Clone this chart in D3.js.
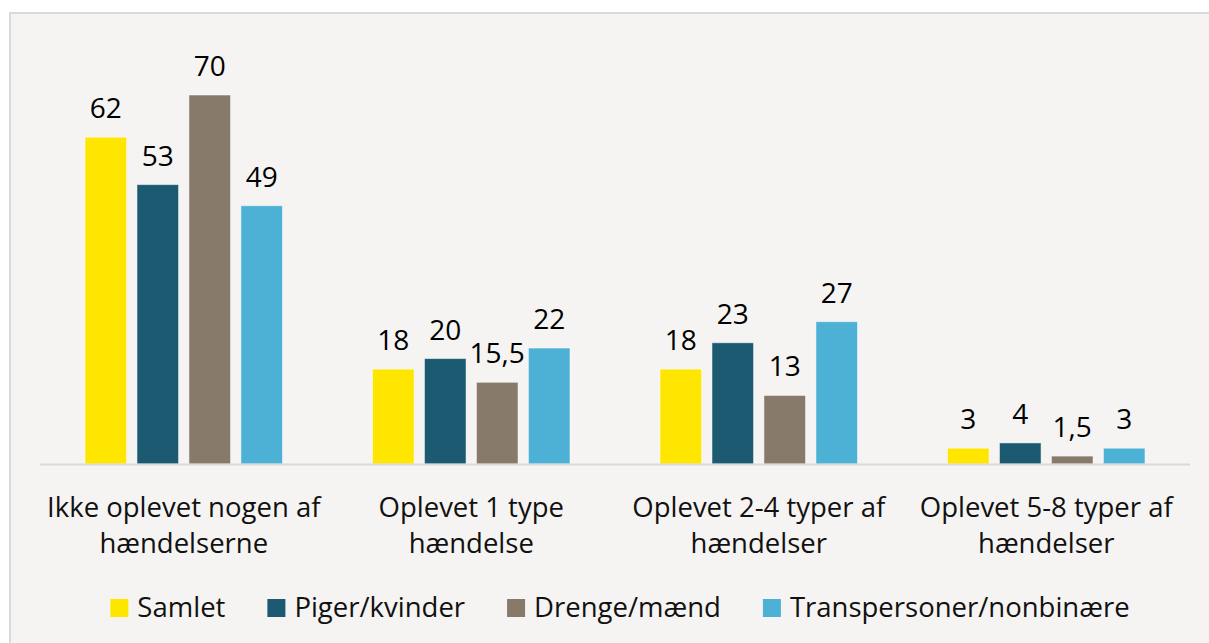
<!DOCTYPE html>
<html>
<head>
<meta charset="utf-8">
<script src="https://cdnjs.cloudflare.com/ajax/libs/d3/7.8.5/d3.min.js"></script>
<style>
  html, body { margin: 0; padding: 0; background: #ffffff; }
  svg { display: block; font-family: "Open Sans", "Noto Sans", sans-serif; }
</style>
</head>
<body>
<div id="chart"></div>
<script>
// chart data
let categories = [
  'Ikke oplevet nogen af\nhændelserne',
  'Oplevet 1 type\nhændelse',
  'Oplevet 2-4 typer af\nhændelser',
  'Oplevet 5-8 typer af\nhændelser'
];
let seriesNames = ['Samlet', 'Piger/kvinder', 'Drenge/mænd', 'Transpersoner/nonbinære'];
let samlet = [62, 18, 18, 3];
let pigerKvinder = [53, 20, 23, 4];
let drengeMaend = [70, 15.5, 13, 1.5];
let transpersoner = [49, 22, 27, 3];
let colors = ['#ffe600', '#1c5a72', '#877a6b', '#4db1d6'];

let seriesValues = [samlet, pigerKvinder, drengeMaend, transpersoner];

// --------------------------------------------------

let width = 1209, height = 643;
let baseY = 464, topY = 95;
let fontSize = 27.5;

let svg = d3.select('#chart')
  .append('svg')
  .attr('width', width)
  .attr('height', height);

// panel with thin border on top and left
svg.append('rect')
  .attr('x', 10).attr('y', 13)
  .attr('width', width + 20).attr('height', height + 20)
  .attr('fill', '#f5f4f2')
  .attr('stroke', '#d9d9d9')
  .attr('stroke-width', 2);

let x0 = d3.scaleBand()
  .domain(categories)
  .range([40, 1190]);

let x1 = d3.scaleBand()
  .domain(seriesNames)
  .range([45, x0.bandwidth() - 45])
  .paddingInner(0.2);

let y = d3.scaleLinear()
  .domain([0, 70])
  .range([baseY, topY]);

let fmt = d3.formatLocale({ decimal: ',', thousands: '.', grouping: [3], currency: ['', ' kr'] }).format(',~f');

let rows = [];
categories.forEach(function (cat, i)
{
  seriesNames.forEach(function (name, j)
  {
    rows.push({ cat: cat, name: name, value: seriesValues[j][i], color: colors[j] });
  });
});

let groups = svg.append('g');

groups.selectAll('rect.bar')
  .data(rows)
  .enter()
  .append('rect')
  .classed('bar', true)
  .attr('x', d => x0(d.cat) + x1(d.name))
  .attr('y', d => y(d.value))
  .attr('width', x1.bandwidth())
  .attr('height', d => baseY - y(d.value))
  .attr('fill', d => d.color)
  .attr('stroke', '#ffffff')
  .attr('stroke-opacity', 0.5)
  .attr('stroke-width', 1);

groups.selectAll('text.val')
  .data(rows)
  .enter()
  .append('text')
  .classed('val', true)
  .attr('x', d => x0(d.cat) + x1(d.name) + x1.bandwidth() / 2)
  .attr('y', d => y(d.value) - 19)
  .attr('text-anchor', 'middle')
  .attr('font-size', 28)
  .attr('fill', '#000')
  .text(d => fmt(d.value));

// baseline
svg.append('line')
  .attr('x1', 40).attr('x2', 1190)
  .attr('y1', baseY + 0.5).attr('y2', baseY + 0.5)
  .attr('stroke', '#d9d9d9')
  .attr('stroke-width', 2);

// category labels
let catLabels = svg.selectAll('text.cat')
  .data(categories)
  .enter()
  .append('text')
  .classed('cat', true)
  .attr('text-anchor', 'middle')
  .attr('font-size', fontSize)
  .attr('fill', '#111');

catLabels.selectAll('tspan')
  .data(d => d.split('\n').map(line => ({ line: line, cat: d })))
  .enter()
  .append('tspan')
  .attr('x', d => x0(d.cat) + x0.bandwidth() / 2)
  .attr('y', (d, i) => 517 + i * 36)
  .text(d => d.line);

// legend
let legend = svg.append('g');
let item = legend.selectAll('g')
  .data(seriesNames)
  .enter()
  .append('g');

item.append('rect')
  .attr('width', 18).attr('height', 18)
  .attr('y', 599)
  .attr('fill', (d, i) => colors[i]);

item.append('text')
  .attr('x', 27)
  .attr('y', 617)
  .attr('font-size', fontSize)
  .attr('fill', '#111')
  .text(d => d);

let offset = 0;
let offsets = [];
item.each(function ()
{
  offsets.push(offset);
  offset += 27 + this.querySelector('text').getComputedTextLength() + 42;
});
let total = offset - 42;
let startX = 620 - total / 2;
item.attr('transform', (d, i) => 'translate(' + (startX + offsets[i]) + ',0)');
</script>
</body>
</html>
